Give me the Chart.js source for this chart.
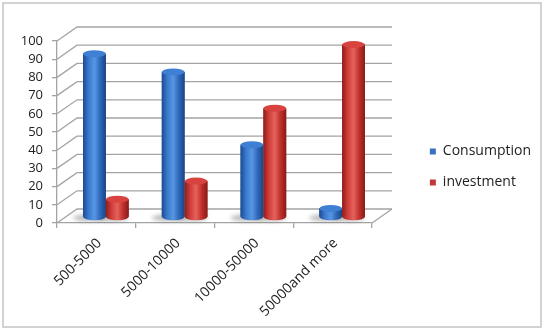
<!DOCTYPE html>
<html>
<head>
<meta charset="utf-8">
<script src="https://cdn.jsdelivr.net/npm/chart.js@4.4.1/dist/chart.umd.min.js"></script>
<style>
  html, body { margin: 0; padding: 0; background: #fff; }
  #wrap { width: 545px; height: 330px; }
</style>
</head>
<body>
<div id="wrap"><canvas id="myChart" width="545" height="330"></canvas></div>
<script>
const categories = ['500-5000', '5000-10000', '10000-50000', '50000and more'];
const consumption = [90, 80, 40, 5];
const investment = [10, 20, 60, 95];
const yMin = 0, yMax = 100, yStep = 10;

// depth offsets of the fake 3D box
const DX = 20, DY = -14;
const BX = 9.5, BY = -5.5;

const shades = {
    blue: { stops: ['#1d4a8e', '#3a7bd0', '#5896e2', '#2d68ba', '#1a4482'], top: '#3f7fd4' },
    red: { stops: ['#8e1c1a', '#d03e3a', '#e6625c', '#c02f2b', '#871a18'], top: '#d9433f' }
};

const box3d = {
    id: 'box3d',
    beforeDraw(chart) {
        const { ctx, scales: { x, y } } = chart;
        ctx.save();
        ctx.strokeStyle = '#c4c4c4';
        ctx.lineWidth = 1.5;
        ctx.strokeRect(3, 3, 538, 324);
        ctx.strokeStyle = '#a4a4a4';
        ctx.lineWidth = 1.3;
        y.ticks.forEach(t => {
            const py = y.getPixelForValue(t.value);
            ctx.beginPath();
            ctx.moveTo(x.left, py);
            ctx.lineTo(x.left + DX, py + DY);
            ctx.lineTo(x.right + DX, py + DY);
            ctx.stroke();
        });
        ctx.beginPath();
        ctx.moveTo(x.right, y.bottom);
        ctx.lineTo(x.right + DX, y.bottom + DY);
        ctx.stroke();
        ctx.restore();
    },
    beforeDatasetsDraw(chart) {
        const ctx = chart.ctx;
        ctx.save();
        ctx.translate(BX, BY);
        // soft shadow on the floor
        ctx.save();
        ctx.filter = 'blur(2px)';
        ctx.fillStyle = 'rgba(60,60,60,0.35)';
        chart.data.datasets.forEach((ds, i) => {
            chart.getDatasetMeta(i).data.forEach(bar => {
                ctx.beginPath();
                ctx.ellipse(bar.x - 5, bar.base + 1, bar.width / 2 + 5, 3.5, 0, 0, Math.PI * 2);
                ctx.fill();
            });
        });
        ctx.restore();
    },
    afterDatasetsDraw(chart) {
        const ctx = chart.ctx;
        chart.data.datasets.forEach((ds, i) => {
            const sh = shades[ds.shade];
            chart.getDatasetMeta(i).data.forEach(bar => {
                const w = bar.width, l = bar.x - w / 2, ry = 3.5;
                const g = ctx.createLinearGradient(l, 0, l + w, 0);
                sh.stops.forEach((c, k) => g.addColorStop(k / (sh.stops.length - 1), c));
                ctx.fillStyle = g;
                ctx.fillRect(l, bar.y, w, bar.base - bar.y);
                ctx.beginPath();
                ctx.ellipse(bar.x, bar.base, w / 2, ry, 0, 0, Math.PI);
                ctx.fill();
                ctx.fillStyle = sh.top;
                ctx.beginPath();
                ctx.ellipse(bar.x, bar.y, w / 2, ry, 0, 0, Math.PI * 2);
                ctx.fill();
            });
        });
        ctx.restore();
    }
};

const family = "'Open Sans', sans-serif";

const config = {
    type: 'bar',
    data: {
        labels: categories,
        datasets: [{
            label: 'Consumption',
            data: consumption,
            backgroundColor: '#3a72c2',
            borderWidth: 0,
            shade: 'blue',
            clip: false
        }, {
            label: 'investment',
            data: investment,
            backgroundColor: '#c0393a',
            borderWidth: 0,
            shade: 'red',
            clip: false
        }]
    },
    options: {
        responsive: false,
        animation: false,
        layout: { padding: { top: 4, right: 4, bottom: 0, left: 0 } },
        datasets: { bar: { barPercentage: 1, categoryPercentage: 0.58 } },
        plugins: {
            legend: {
                position: 'right',
                labels: { boxWidth: 6, boxHeight: 6, padding: 17, color: '#222', font: { family: family, size: 14 } }
            },
            tooltip: { enabled: false }
        },
        scales: {
            x: {
                offset: true,
                stack: 'bottom',
                stackWeight: 316,
                grid: { drawOnChartArea: false, tickLength: 5, color: '#a4a4a4', lineWidth: 1.3 },
                border: { color: '#a4a4a4', width: 1.3 },
                ticks: { maxRotation: 45, minRotation: 45, autoSkip: false, color: '#222', font: { family: family, size: 14 }, padding: 7, labelOffset: 3 },
                afterFit(s) { s.height = 107; }
            },
            xPad: {
                type: 'category',
                position: 'bottom',
                stack: 'bottom',
                stackWeight: 41,
                grid: { display: false },
                border: { display: false },
                ticks: { display: false },
                afterFit(s) { s.height = 107; }
            },
            xTop: {
                type: 'category',
                position: 'top',
                grid: { display: false },
                border: { display: false },
                ticks: { display: false },
                afterFit(s) { s.height = 37; }
            },
            y: {
                min: yMin,
                max: yMax,
                grid: { drawOnChartArea: false, tickLength: 5, color: '#a4a4a4', lineWidth: 1.3 },
                border: { color: '#a4a4a4', width: 1.3 },
                ticks: { stepSize: yStep, autoSkip: false, color: '#222', font: { family: family, size: 13 }, padding: 9 },
                afterFit(s) { s.width = 57; }
            }
        }
    },
    plugins: [box3d]
};

const ctx = document.getElementById('myChart').getContext('2d');
new Chart(ctx, config);
</script>
</body>
</html>
